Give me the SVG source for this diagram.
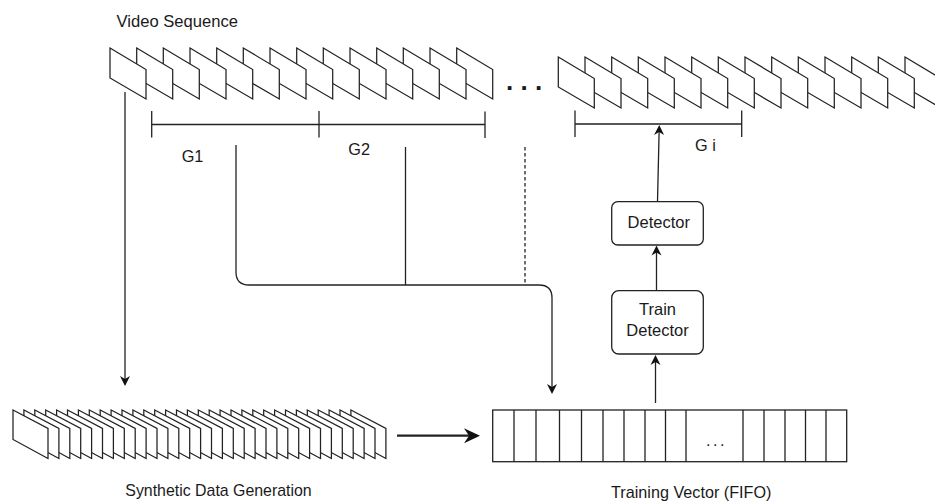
<svg xmlns="http://www.w3.org/2000/svg" xmlns:xlink="http://www.w3.org/1999/xlink" width="935" height="502" viewBox="0 0 935 502">
<style>
.t{font-family:"Liberation Sans",Arial,sans-serif;font-size:16.3px;fill:#1a1a1a}
.ln{fill:none;stroke:#222;stroke-width:1.3}
.fr{fill:#fff;stroke:#222;stroke-width:1.25;stroke-linejoin:miter}
.box{fill:#fff;stroke:#222;stroke-width:1.3}
.cell{fill:#fff;stroke:#222;stroke-width:1.3}
</style>
<defs>
<polygon id="fT" class="fr" points="0,0 36,21.5 36,51 0,30"/>
<polygon id="fB" class="fr" points="0,0 35,18.5 35,48.5 0,29.5"/>
<marker id="ah" viewBox="-8 -6 12 12" refX="0" refY="0" markerWidth="12" markerHeight="12" markerUnits="userSpaceOnUse" orient="auto"><path d="M3,0 L-7,-5 L-4,0 L-7,5 Z" fill="#111"/></marker>
<marker id="ahB" viewBox="-16 -9 20 18" refX="0" refY="0" markerWidth="20" markerHeight="18" markerUnits="userSpaceOnUse" orient="auto"><path d="M3,0 L-13,-7.5 L-8,0 L-13,7.5 Z" fill="#111"/></marker>
</defs>
<rect width="935" height="502" fill="#fff"/>

<g id="video-sequence-label"><text class="t" x="116.5" y="26.5" style="font-size:16.6px">Video Sequence</text></g>

<g id="video-sequence-left">
<use href="#fT" x="456.7" y="48"/><use href="#fT" x="430" y="48"/><use href="#fT" x="403.3" y="48"/><use href="#fT" x="376.7" y="48"/><use href="#fT" x="350" y="48"/><use href="#fT" x="323.3" y="48"/><use href="#fT" x="296.7" y="48"/><use href="#fT" x="270" y="48"/><use href="#fT" x="243.3" y="48"/><use href="#fT" x="216.7" y="48"/><use href="#fT" x="190" y="48"/><use href="#fT" x="163.3" y="48"/><use href="#fT" x="136.7" y="48"/><use href="#fT" x="110" y="48"/>
</g>

<g id="ellipsis"><text class="t" x="506" y="90" style="font-size:26px;font-weight:bold">. . .</text></g>

<g id="video-sequence-right">
<use href="#fT" x="905" y="57"/><use href="#fT" x="878.3" y="57"/><use href="#fT" x="851.7" y="57"/><use href="#fT" x="825" y="57"/><use href="#fT" x="798.3" y="57"/><use href="#fT" x="771.7" y="57"/><use href="#fT" x="745" y="57"/><use href="#fT" x="718.3" y="57"/><use href="#fT" x="691.7" y="57"/><use href="#fT" x="665" y="57"/><use href="#fT" x="638.3" y="57"/><use href="#fT" x="611.7" y="57"/><use href="#fT" x="585" y="57"/><use href="#fT" x="558.3" y="57"/>
</g>

<g id="groups-g1-g2">
<path class="ln" d="M151.7,124.5 H485 M151.7,111 V137.5 M319,111 V137.5 M485,111.5 V138"/>
<text class="t" x="181.7" y="161.5">G1</text>
<text class="t" x="348.3" y="155">G2</text>
</g>

<g id="group-gi">
<path class="ln" d="M575,124 H741.7 M575,110.5 V137 M741.7,110.5 V137"/>
<text class="t" x="695" y="151">G i</text>
</g>

<g id="synthetic-data-generation">
<use href="#fB" x="350.9" y="410"/><use href="#fB" x="340" y="410"/><use href="#fB" x="329.1" y="410"/><use href="#fB" x="318.2" y="410"/><use href="#fB" x="307.3" y="410"/><use href="#fB" x="296.4" y="410"/><use href="#fB" x="285.5" y="410"/><use href="#fB" x="274.6" y="410"/><use href="#fB" x="263.7" y="410"/><use href="#fB" x="252.8" y="410"/><use href="#fB" x="241.9" y="410"/><use href="#fB" x="231" y="410"/><use href="#fB" x="220.1" y="410"/><use href="#fB" x="209.2" y="410"/><use href="#fB" x="198.3" y="410"/><use href="#fB" x="187.4" y="410"/><use href="#fB" x="176.5" y="410"/><use href="#fB" x="165.6" y="410"/><use href="#fB" x="154.7" y="410"/><use href="#fB" x="143.8" y="410"/><use href="#fB" x="132.9" y="410"/><use href="#fB" x="122" y="410"/><use href="#fB" x="111.1" y="410"/><use href="#fB" x="100.2" y="410"/><use href="#fB" x="89.3" y="410"/><use href="#fB" x="78.4" y="410"/><use href="#fB" x="67.5" y="410"/><use href="#fB" x="56.6" y="410"/><use href="#fB" x="45.7" y="410"/><use href="#fB" x="34.8" y="410"/><use href="#fB" x="23.9" y="410"/><use href="#fB" x="13" y="410"/>
<text class="t" x="218.5" y="496" text-anchor="middle" style="font-size:15.9px">Synthetic Data Generation</text>
</g>

<g id="training-vector">
<rect class="cell" x="492.7" y="410" width="354" height="51.7"/>
<path class="ln" d="M514,410 V461.7 M536,410 V461.7 M559.5,410 V461.7 M581.5,410 V461.7 M603,410 V461.7 M624,410 V461.7 M645,410 V461.7 M665.5,410 V461.7 M686,410 V461.7 M743,410 V461.7 M764,410 V461.7 M785,410 V461.7 M805.5,410 V461.7 M826,410 V461.7"/>
<text class="t" x="716.5" y="446" text-anchor="middle" style="font-size:16px;letter-spacing:2.6px">...</text>
<text class="t" x="691.3" y="498" text-anchor="middle" style="font-size:16.2px">Training Vector (FIFO)</text>
</g>

<g id="train-detector">
<rect class="box" x="611.7" y="290.7" width="91.6" height="63.3" rx="7"/>
<text class="t" x="657.5" y="315" text-anchor="middle" style="font-size:16.5px">Train</text>
<text class="t" x="657.5" y="336" text-anchor="middle" style="font-size:16.5px">Detector</text>
</g>

<g id="detector">
<rect class="box" x="611.7" y="201.7" width="91.6" height="43.3" rx="6"/>
<text class="t" x="658.8" y="227.7" text-anchor="middle" style="font-size:16.5px">Detector</text>
</g>

<g id="connectors">
<path class="ln" d="M125,92 V383" marker-end="url(#ah)"/>
<path class="ln" d="M236,145 V272 Q236,285 249,285 H539 Q552,285 552,298 V391" marker-end="url(#ah)"/>
<path class="ln" d="M405.5,147 V285"/>
<path class="ln" d="M525,147 V285" stroke-dasharray="3.5 2.5"/>
<path class="ln" d="M397,435.7 H477" style="stroke-width:2.2" marker-end="url(#ahB)"/>
<path class="ln" d="M655.5,403 V358" marker-end="url(#ah)"/>
<path class="ln" d="M656.5,290.7 V248.5" marker-end="url(#ah)"/>
<path class="ln" d="M657.5,201.7 L659.2,128" marker-end="url(#ah)"/>
</g>
</svg>
